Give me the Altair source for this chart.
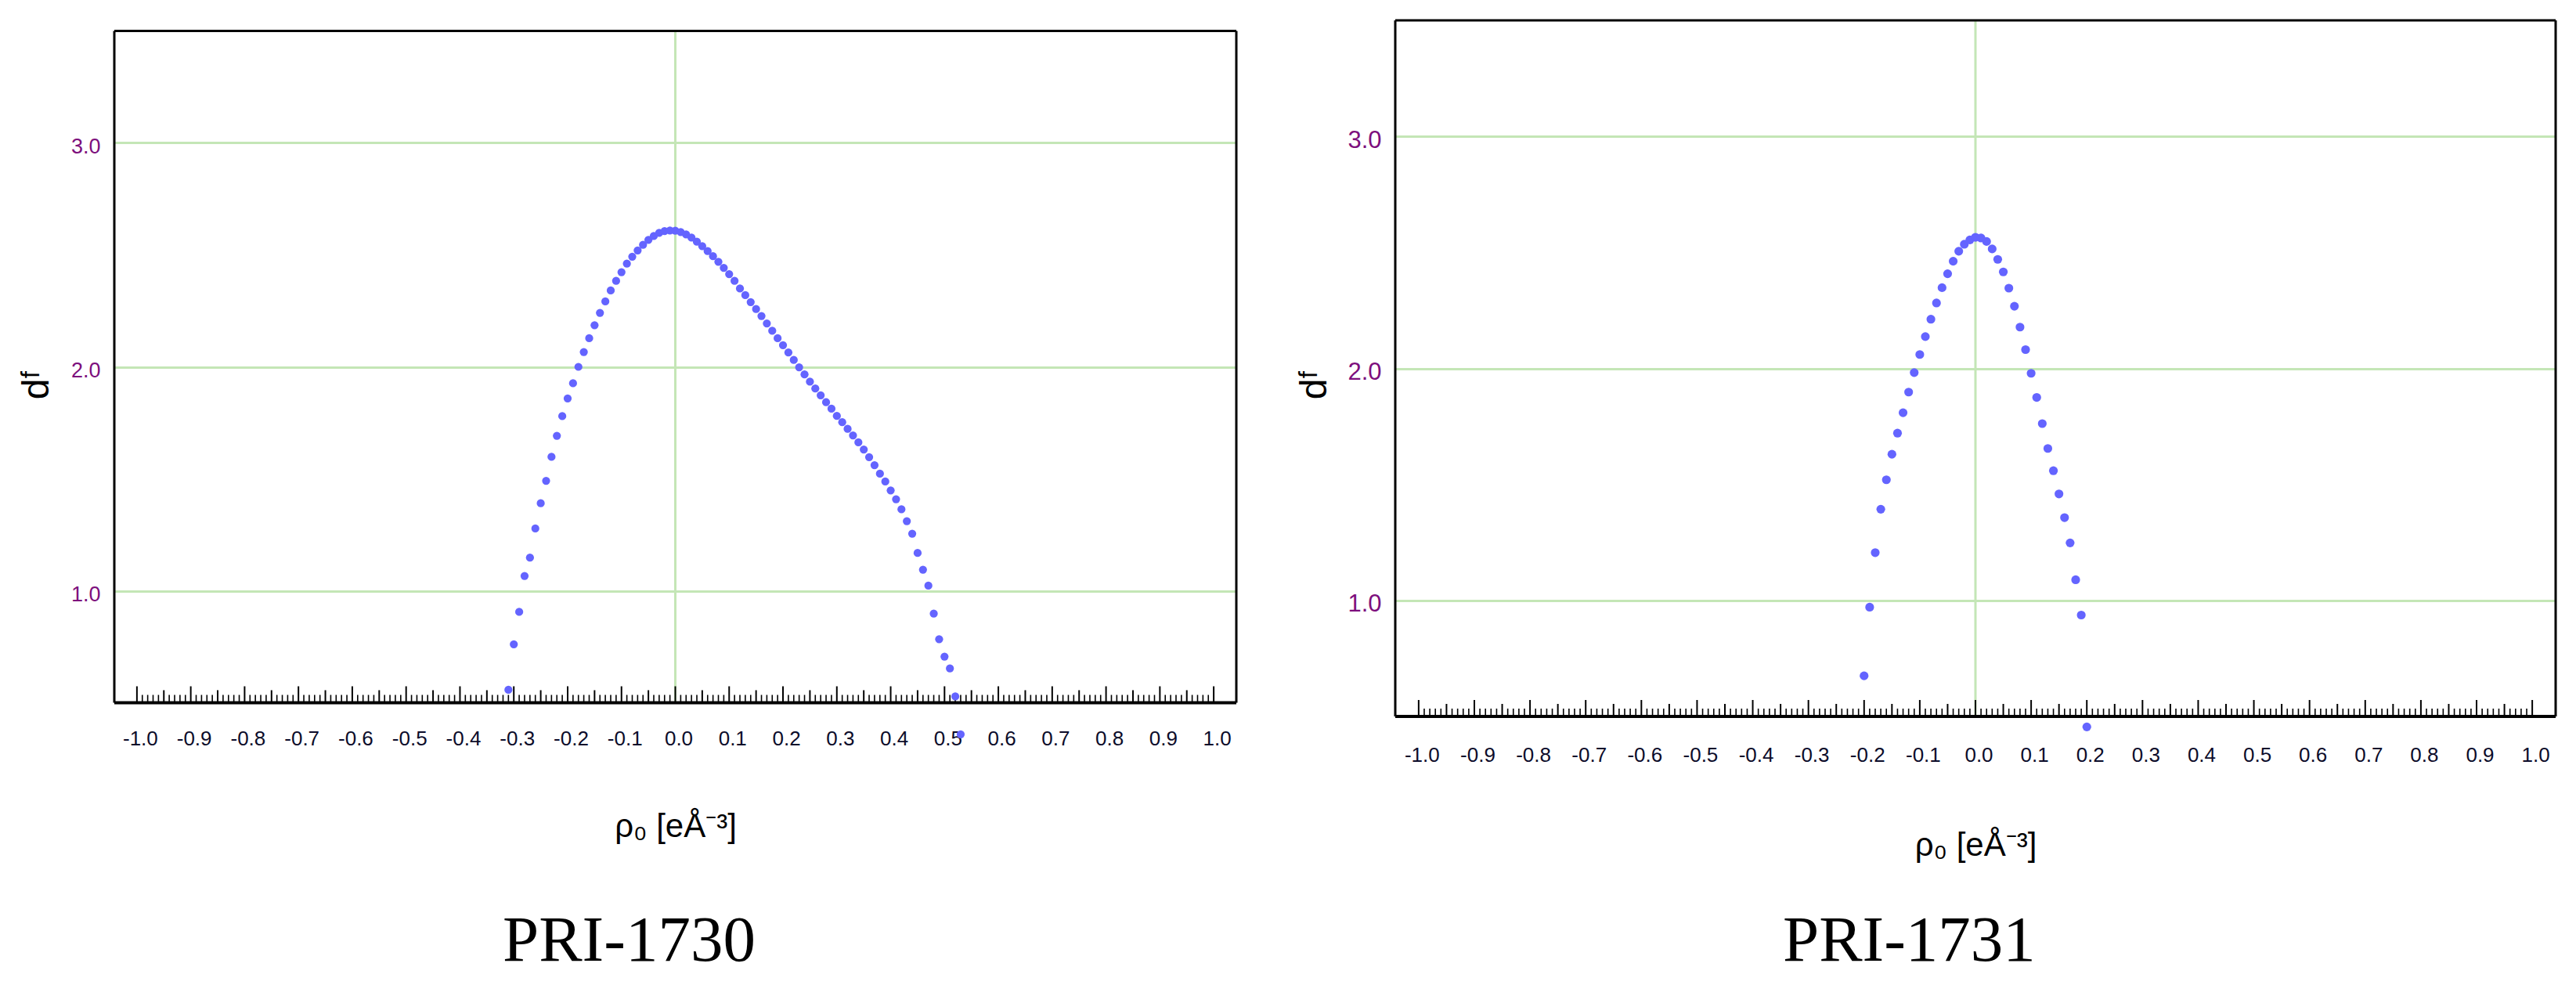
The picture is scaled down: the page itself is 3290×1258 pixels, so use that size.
import altair as alt
import pandas as pd

# ---------------- data ----------------
RHO_1730 = [-0.31, -0.30, -0.29, -0.28, -0.27, -0.26, -0.25, -0.24, -0.23, -0.22,
            -0.21, -0.20, -0.19, -0.18, -0.17, -0.16, -0.15, -0.14, -0.13, -0.12,
            -0.11, -0.10, -0.09, -0.08, -0.07, -0.06, -0.05, -0.04, -0.03, -0.02,
            -0.01, 0.00, 0.01, 0.02, 0.03, 0.04, 0.05, 0.06, 0.07, 0.08,
            0.09, 0.10, 0.11, 0.12, 0.13, 0.14, 0.15, 0.16, 0.17, 0.18,
            0.19, 0.20, 0.21, 0.22, 0.23, 0.24, 0.25, 0.26, 0.27, 0.28,
            0.29, 0.30, 0.31, 0.32, 0.33, 0.34, 0.35, 0.36, 0.37, 0.38,
            0.39, 0.40, 0.41, 0.42, 0.43, 0.44, 0.45, 0.46, 0.47, 0.48,
            0.49, 0.50, 0.51, 0.52, 0.53]
DF_1730 = [0.558, 0.761, 0.906, 1.066, 1.148, 1.278, 1.391, 1.491, 1.598, 1.692,
           1.780, 1.859, 1.927, 2.000, 2.066, 2.128, 2.186, 2.241, 2.292, 2.341,
           2.384, 2.423, 2.461, 2.492, 2.520, 2.545, 2.567, 2.584, 2.598, 2.606,
           2.609, 2.608, 2.602, 2.591, 2.577, 2.559, 2.539, 2.517, 2.494, 2.469,
           2.442, 2.414, 2.384, 2.350, 2.320, 2.289, 2.258, 2.227, 2.194, 2.161,
           2.128, 2.097, 2.064, 2.031, 1.998, 1.966, 1.934, 1.903, 1.873, 1.842,
           1.813, 1.781, 1.753, 1.723, 1.694, 1.663, 1.631, 1.597, 1.561, 1.523,
           1.488, 1.448, 1.409, 1.364, 1.311, 1.255, 1.169, 1.094, 1.023, 0.898,
           0.784, 0.706, 0.653, 0.528, 0.359]

RHO_1731 = [-0.20, -0.19, -0.18, -0.17, -0.16, -0.15, -0.14, -0.13, -0.12, -0.11,
            -0.10, -0.09, -0.08, -0.07, -0.06, -0.05, -0.04, -0.03, -0.02, -0.01,
            0.00, 0.01, 0.02, 0.03, 0.04, 0.05, 0.06, 0.07, 0.08, 0.09,
            0.10, 0.11, 0.12, 0.13, 0.14, 0.15, 0.16, 0.17, 0.18, 0.19, 0.20]
DF_1731 = [0.675, 0.971, 1.206, 1.393, 1.520, 1.630, 1.721, 1.809, 1.898, 1.982,
           2.060, 2.137, 2.212, 2.282, 2.348, 2.408, 2.462, 2.505, 2.535, 2.554,
           2.565, 2.562, 2.547, 2.515, 2.470, 2.416, 2.346, 2.268, 2.178, 2.081,
           1.979, 1.875, 1.762, 1.655, 1.559, 1.459, 1.357, 1.248, 1.089, 0.937, 0.455]

X_TICK_LABELS = [-1.0, -0.9, -0.8, -0.7, -0.6, -0.5, -0.4, -0.3, -0.2, -0.1, 0.0,
                 0.1, 0.2, 0.3, 0.4, 0.5, 0.6, 0.7, 0.8, 0.9, 1.0]
Y_TICK_LABELS = [1.0, 2.0, 3.0]
X_DOMAIN = [-1.042, 1.042]
Y_DOMAIN = [0.5, 3.5]
CAPTIONS = ["PRI-1730", "PRI-1731"]
X_TITLE = "ρ₀ [eÅ⁻³]"
Y_TITLE = "dᶠ"

# derived tick positions (half and hundredth steps between labelled ticks)
MID_TICKS = [round(t + 0.05, 2) for t in X_TICK_LABELS[:-1]]
MINOR_TICKS = [round(t + k * 0.01, 2) for t in X_TICK_LABELS[:-1]
               for k in range(1, 10) if k != 5]

# ---------------- styles ----------------
GRID = "#c4e6b6"
POINT = "#6464ff"
PURPLE = "#7d0f7d"
XLAB = "#0c0c2a"
SANS = "Liberation Sans"
SERIF = "Liberation Serif"


def panel(rho, dfv, caption, W, H, top_off, ylab_size, xlab_pad, pt_size,
          ytitle_x, ytitle_y, xtitle_y, cap_dx, cap_offset):
    HT = H + top_off  # full group height; plot frame starts top_off below group top
    xs = alt.Scale(domain=X_DOMAIN, nice=False, zero=False)
    ys = alt.Scale(domain=Y_DOMAIN, range=[HT, top_off], nice=False, zero=False)
    x_axis = alt.Axis(
        values=X_TICK_LABELS,
        labelExpr="(datum.value < -0.001 ? '-' : '') + format(abs(datum.value), '.1f')",
        labelFont=SANS, labelFontSize=26, labelColor=XLAB, labelPadding=xlab_pad,
        labelOffset=4, labelFlush=False, labelOverlap=False,
        ticks=False, domain=False, grid=False,
        title=X_TITLE, titleFont=SANS, titleFontSize=42, titleFontWeight="normal",
        titleColor="black", titleBaseline="alphabetic", titleY=xtitle_y,
    )
    y_axis = alt.Axis(
        values=Y_TICK_LABELS, format=".1f",
        labelFont=SANS, labelFontSize=ylab_size, labelColor=PURPLE,
        labelPadding=18, labelOffset=5,
        ticks=False, domain=False,
        grid=True, gridColor=GRID, gridWidth=3, gridOpacity=1,
        title=Y_TITLE, titleFont=SANS, titleFontSize=48, titleFontWeight="normal",
        titleColor="black", titleAngle=270, titleAlign="center",
        titleBaseline="alphabetic", titleX=ytitle_x, titleY=ytitle_y + top_off,
    )
    X = alt.X("x:Q", scale=xs, axis=x_axis)
    Y = alt.Y("y:Q", scale=ys, axis=y_axis)

    vgrid = alt.Chart(pd.DataFrame({"x": [0.0], "y": [Y_DOMAIN[1]], "y2": [Y_DOMAIN[0]]})
                      ).mark_rule(color=GRID, strokeWidth=3).encode(x=X, y=Y, y2="y2:Q")
    frame_top = alt.Chart(pd.DataFrame({"y": [Y_DOMAIN[1]]})).mark_rule(
        color="black", strokeWidth=3).encode(y=Y)
    frame_sides = alt.Chart(pd.DataFrame({"x": X_DOMAIN, "y": [Y_DOMAIN[0]] * 2,
                                          "y2": [Y_DOMAIN[1]] * 2})).mark_rule(
        color="black", strokeWidth=3).encode(x=X, y=Y, y2="y2:Q")
    base_line = alt.Chart(pd.DataFrame({"y": [Y_DOMAIN[0]]})).mark_rule(
        color="black", strokeWidth=4).encode(y=Y)
    major = alt.Chart(pd.DataFrame({"x": X_TICK_LABELS})).mark_rule(
        color="black", strokeWidth=2).encode(x=X, y=alt.value(HT), y2=alt.value(HT - 21))
    mid = alt.Chart(pd.DataFrame({"x": MID_TICKS})).mark_rule(
        color="black", strokeWidth=2).encode(x=X, y=alt.value(HT), y2=alt.value(HT - 16))
    minor = alt.Chart(pd.DataFrame({"x": MINOR_TICKS})).mark_rule(
        color="black", strokeWidth=1.6).encode(x=X, y=alt.value(HT), y2=alt.value(HT - 10))
    pts = alt.Chart(pd.DataFrame({"x": rho, "y": dfv})).mark_circle(
        size=pt_size, color=POINT, opacity=1).encode(x=X, y=Y)

    return alt.layer(vgrid, frame_top, frame_sides, base_line, major, mid, minor, pts
                     ).properties(
        width=W, height=HT,
        title=alt.TitleParams(text=caption, orient="bottom", anchor="middle",
                              frame="group", font=SERIF, fontSize=83,
                              fontWeight="normal", color="black",
                              dx=cap_dx, offset=cap_offset),
    )


left = panel(RHO_1730, DF_1730, CAPTIONS[0], 1433, 858, 13.5, 27, 33, 105,
             -84.5, 451.5, 171, -59, 84)
right = panel(RHO_1731, DF_1731, CAPTIONS[1], 1482, 889, 0, 31, 36, 125,
              -89, 465, 177, -84.6, 61)

chart = alt.hconcat(left, right, spacing=203, bounds="flush").properties(
    padding={"left": 15, "top": 16, "right": 5, "bottom": 5},
    background="white",
).configure_view(stroke="transparent", strokeWidth=0)

chart.save("out.html", embed_options={"renderer": "svg", "actions": False})
